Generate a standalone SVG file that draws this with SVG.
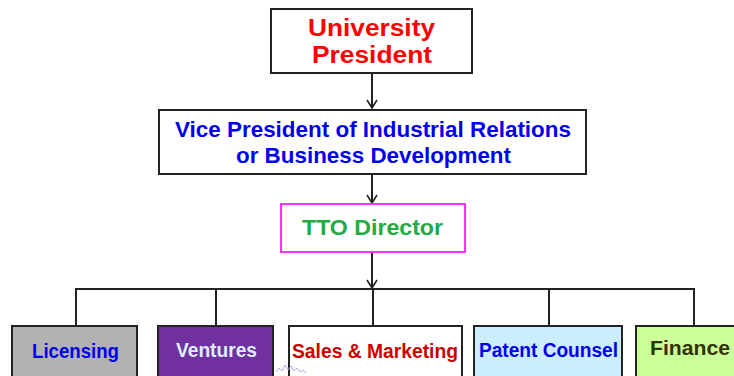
<svg xmlns="http://www.w3.org/2000/svg" width="734" height="376" viewBox="0 0 734 376">
<defs>
<marker id="arr" markerWidth="12" markerHeight="12" refX="10" refY="6" orient="auto" markerUnits="userSpaceOnUse" viewBox="0 0 12 12">
<path d="M2,1 L10,6 L2,11" fill="none" stroke="#222" stroke-width="1.6"/>
</marker>
<style>
text{font-family:"Liberation Sans",Arial,sans-serif;font-weight:bold;text-anchor:middle}
.box{stroke:#222;stroke-width:2}
.conn{fill:none;stroke:#222;stroke-width:2}
</style>
</defs>
<rect width="734" height="376" fill="#fff"/>
<g id="connectors">
<path class="conn" d="M372,73 V108" marker-end="url(#arr)"/>
<path class="conn" d="M372,174 V203" marker-end="url(#arr)"/>
<path class="conn" d="M372,252 V288" marker-end="url(#arr)"/>
<path class="conn" d="M76,326 V289 H694 V326 M216,289 V326 M373,289 V326 M549,289 V326"/>
</g>
<g id="president">
<rect class="box" x="271" y="9" width="201" height="64" fill="#fff"/>
<text x="371.5" y="36" font-size="23" fill="#FF0000" textLength="127" lengthAdjust="spacingAndGlyphs">University</text>
<text x="372" y="62.5" font-size="23" fill="#FF0000" textLength="120" lengthAdjust="spacingAndGlyphs">President</text>
</g>
<g id="vp">
<rect class="box" x="159" y="110" width="427" height="64" fill="#fff"/>
<text x="373" y="137" font-size="22" fill="#0000EE" textLength="396" lengthAdjust="spacingAndGlyphs">Vice President of Industrial Relations</text>
<text x="373.5" y="163" font-size="22" fill="#0000EE" textLength="275" lengthAdjust="spacingAndGlyphs">or Business Development</text>
</g>
<g id="tto">
<rect x="281" y="204" width="184" height="48" fill="#fff" stroke="#FF33FF" stroke-width="2"/>
<text x="372.5" y="234.5" font-size="22" fill="#22AA44" textLength="141" lengthAdjust="spacingAndGlyphs">TTO Director</text>
</g>
<g id="licensing">
<rect class="box" x="12" y="326" width="125" height="60" fill="#B2B2B2"/>
<text x="75.5" y="357.5" font-size="20" fill="#0000EE" textLength="87" lengthAdjust="spacingAndGlyphs">Licensing</text>
</g>
<g id="ventures">
<rect class="box" x="158" y="326" width="115" height="60" fill="#7030A0"/>
<text x="216.5" y="356.5" font-size="20" fill="#DDEEFF" textLength="81" lengthAdjust="spacingAndGlyphs">Ventures</text>
</g>
<g id="sales">
<rect class="box" x="289" y="326" width="173" height="60" fill="#fff"/>
<text x="375" y="357.5" font-size="20" fill="#CC0000" textLength="166" lengthAdjust="spacingAndGlyphs">Sales &amp; Marketing</text>
</g>
<g id="patent">
<rect class="box" x="474" y="326" width="148" height="60" fill="#CCECFF"/>
<text x="548.5" y="356.5" font-size="20" fill="#0000EE" textLength="139" lengthAdjust="spacingAndGlyphs">Patent Counsel</text>
</g>
<g id="finance">
<rect class="box" x="636" y="326" width="110" height="60" fill="#CCFF99"/>
<text x="690" y="355" font-size="21" fill="#333300" textLength="80" lengthAdjust="spacingAndGlyphs">Finance</text>
</g>
<path d="M276,372 l3,-4 l3,3 l3,-6 l3,5 l3,-4 l3,5 l3,-3 l3,4 l3,-2 l3,3" fill="none" stroke="#AAAAEE" stroke-width="1"/>
</svg>
